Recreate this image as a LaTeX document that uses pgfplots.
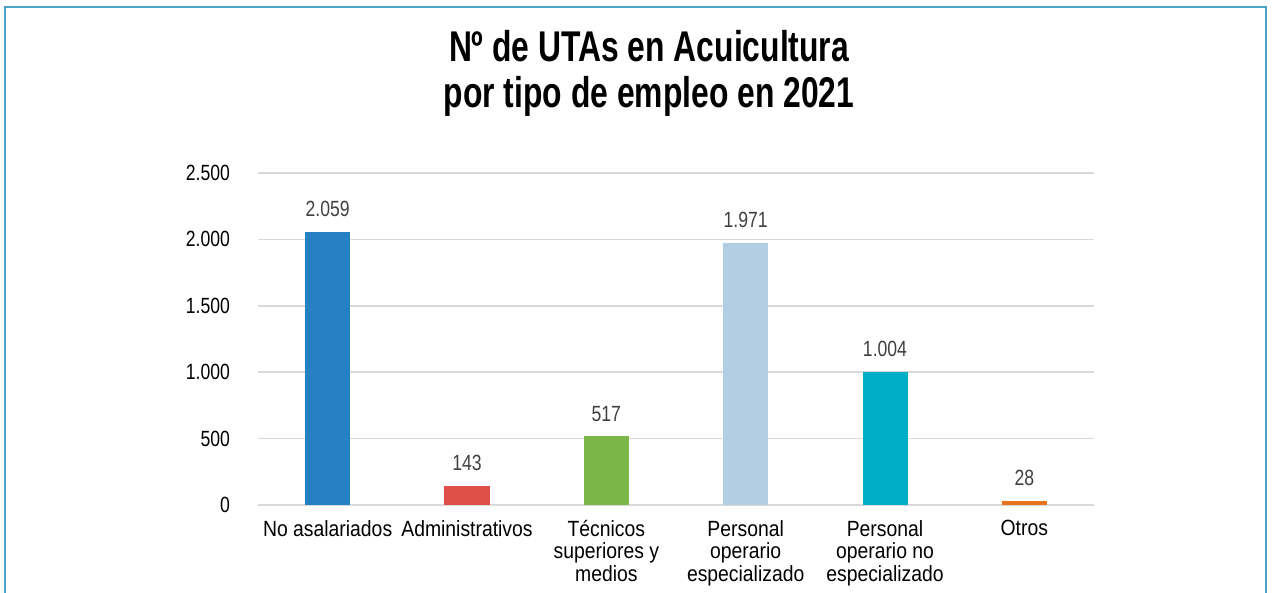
\documentclass[border=0pt]{standalone}
\usepackage{fontspec}
\setmainfont{Liberation Sans}[FakeStretch=0.88]
\newfontfamily\numfont{Liberation Sans}[FakeStretch=0.8]
\newfontfamily\titlefont{Liberation Sans}[FakeStretch=0.74]
\usepackage{pgfplots}
\pgfplotsset{compat=1.18}

\definecolor{cNoas}{HTML}{2581C4}
\definecolor{cAdmin}{HTML}{E0504B}
\definecolor{cTec}{HTML}{7AB648}
\definecolor{cEsp}{HTML}{B3CDE3}
\definecolor{cNoesp}{HTML}{00AEC7}
\definecolor{cOtros}{HTML}{E8731E}
\definecolor{frameblue}{HTML}{4AA3C9}

\begin{document}
\begin{tikzpicture}[x=1pt,y=1pt]
\begin{axis}[
    at={(0,0)}, anchor=south west,
    scale only axis, width=418pt, height=166pt,
    ybar, bar width=22.5pt, bar shift=0pt,
    xmin=-0.5, xmax=5.5, ymin=0, ymax=2500,
    ytick={0,500,...,2500},
    xtick={0,...,5},
    xticklabels={No asalariados, Administrativos, {Técnicos\\superiores y\\medios},
                 {Personal\\operario\\especializado}, {Personal\\operario no\\especializado}, Otros},
    axis line style={draw=none},
    major tick length=0pt,
    ymajorgrids, grid style={draw=black!15, line width=0.75pt},
    /pgf/number format/assume math mode=true,
    /pgf/number format/1000 sep={.},
    yticklabel style={font=\numfont\fontsize{11}{11}\selectfont, xshift=-10.5pt},
    xticklabel style={font=\fontsize{11}{11.25}\selectfont, align=center, yshift=-4pt},
    nodes near coords,
    every node near coord/.append style={font=\numfont\fontsize{11}{11}\selectfont, text=black!75, yshift=4pt},
]
\addplot[fill=cNoas, draw=none] coordinates {(0,2059)};
\addplot[fill=cAdmin, draw=none] coordinates {(1,143)};
\addplot[fill=cTec, draw=none] coordinates {(2,517)};
\addplot[fill=cEsp, draw=none] coordinates {(3,1971)};
\addplot[fill=cNoesp, draw=none] coordinates {(4,1004)};
\addplot[fill=cOtros, draw=none] coordinates {(5,28)};
\end{axis}
\node[anchor=base, font=\titlefont\bfseries\fontsize{21.5}{23}\selectfont] at (195.5,221.5) {Nº de UTAs en Acuicultura};
\node[anchor=base, font=\titlefont\bfseries\fontsize{21.5}{23}\selectfont] at (195.5,198.5) {por tipo de empleo en 2021};
\path[use as bounding box] (-129,-43) rectangle (507,252.5);
\draw[frameblue, line width=1pt] (-126.5,-45) -- (-126.5,249) -- (504,249) -- (504,-45);
\end{tikzpicture}
\end{document}
